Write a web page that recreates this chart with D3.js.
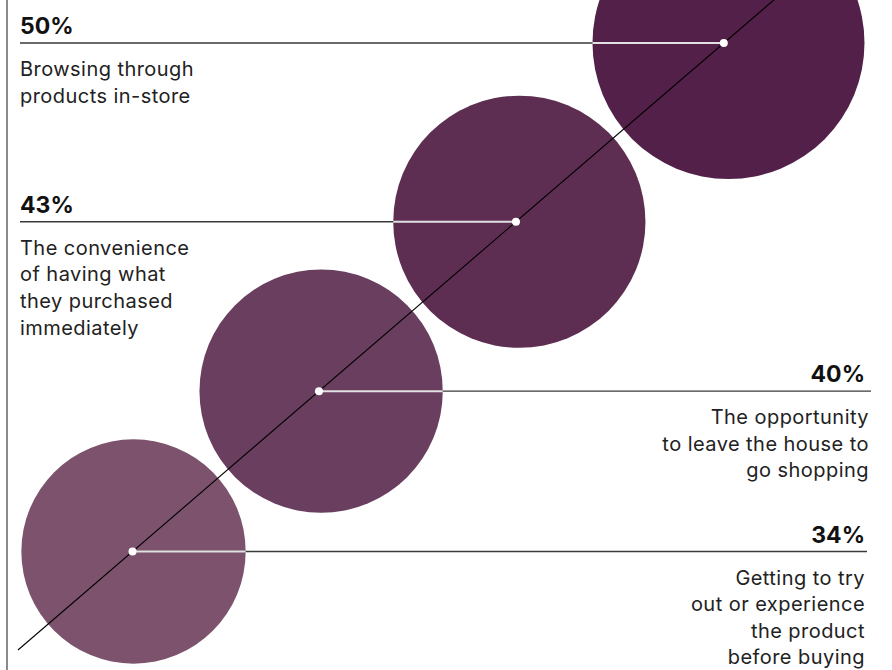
<!DOCTYPE html>
<html>
<head>
<meta charset="utf-8">
<script src="https://cdn.jsdelivr.net/npm/d3@7"></script>
<style>
  html, body { margin: 0; padding: 0; background: #fff; }
  svg { display: block; }
  .pct { font-family: Inter, "Noto Sans", sans-serif; font-weight: 700; font-size: 23px; fill: #111; }
  .desc { font-family: Inter, "Noto Sans", sans-serif; font-weight: 400; font-size: 20px; fill: #222; letter-spacing: 0.45px; }
</style>
</head>
<body>
<script>
// ---- data ----
const values = [34, 40, 43, 50];
const percentLabels = ["34%", "40%", "43%", "50%"];
const descriptions = [
  ["Getting to try", "out or experience", "the product", "before buying"],
  ["The opportunity", "to leave the house to", "go shopping"],
  ["The convenience", "of having what", "they purchased", "immediately"],
  ["Browsing through", "products in-store"]
];

// ---- layout ----
const W = 892, H = 670;
const svg = d3.select("body").append("svg").attr("width", W).attr("height", H);

const rScale = d3.scaleSqrt().domain([0, 50]).range([0, 136]);
const color = d3.scaleLinear().domain([34, 40, 43, 50])
  .range(["#7c526c", "#6a3e5e", "#5e2e52", "#522048"]);

// bubble chain geometry: centres on a line, constant gap between bubbles
const start = [133.5, 551.5];
const chainDir = [595, -508.5];
const chainLen = Math.hypot(chainDir[0], chainDir[1]);
const cx = d3.scaleLinear().domain([0, chainLen]).range([start[0], start[0] + chainDir[0]]);
const cy = d3.scaleLinear().domain([0, chainLen]).range([start[1], start[1] + chainDir[1]]);
const gap = 13;

// diagonal guide line: y -> x
const diagOrigin = [18, 650], diagSlope = 0.86;
const diagX = d3.scaleLinear().domain([diagOrigin[1], 0])
  .range([diagOrigin[0], diagOrigin[0] + diagOrigin[1] / diagSlope]);

const nodes = [];
let s = 0;
values.forEach((v, i) => {
  if (i > 0) s += rScale(values[i - 1]) + rScale(v) + gap;
  const y = cy(s);
  nodes.push({ v, i, cx: cx(s), y, r: rScale(v), dx: diagX(y) });
});

// left rule
svg.append("line").attr("x1", 7).attr("x2", 7).attr("y1", 0).attr("y2", H)
  .attr("stroke", "#8a8a8a").attr("stroke-width", 2);

// circles
svg.selectAll("circle.bub").data(nodes).join("circle").attr("class", "bub")
  .attr("cx", d => d.cx).attr("cy", d => d.y).attr("r", d => d.r)
  .attr("fill", d => color(d.v));

const leftX = 20;
const rightX = [867, 871];
const rightPct = [865, 865];
const rightDesc = [865, 869];

nodes.forEach(d => {
  const left = d.dx > W / 2;
  const endX = left ? leftX : rightX[d.i];
  svg.append("line").attr("x1", endX).attr("x2", d.dx).attr("y1", d.y).attr("y2", d.y)
    .attr("stroke", "#3a3a3a").attr("stroke-width", 1.3);
  const edge = left ? d.cx - d.r : d.cx + d.r;
  svg.append("line").attr("x1", edge).attr("x2", d.dx).attr("y1", d.y).attr("y2", d.y)
    .attr("stroke", "#ffffff").attr("stroke-opacity", 0.85).attr("stroke-width", 2);

  const anchor = left ? "start" : "end";
  svg.append("text").attr("class", "pct").attr("x", left ? leftX : rightPct[d.i]).attr("y", d.y - 9)
    .attr("text-anchor", anchor).text(percentLabels[d.i]);
  const t = svg.append("text").attr("class", "desc").attr("text-anchor", anchor);
  descriptions[d.i].forEach((line, k) => {
    t.append("tspan").attr("x", left ? leftX : rightDesc[d.i])
      .attr("y", d.y + 33 + k * 26.6).text(line);
  });
});

// diagonal
svg.append("line")
  .attr("x1", diagX(diagOrigin[1])).attr("y1", diagOrigin[1])
  .attr("x2", diagX(-5)).attr("y2", -5)
  .attr("stroke", "#000").attr("stroke-width", 1.1);

// dots
svg.selectAll("circle.dot").data(nodes).join("circle").attr("class", "dot")
  .attr("cx", d => d.dx).attr("cy", d => d.y).attr("r", 4).attr("fill", "#fff");
</script>
</body>
</html>
